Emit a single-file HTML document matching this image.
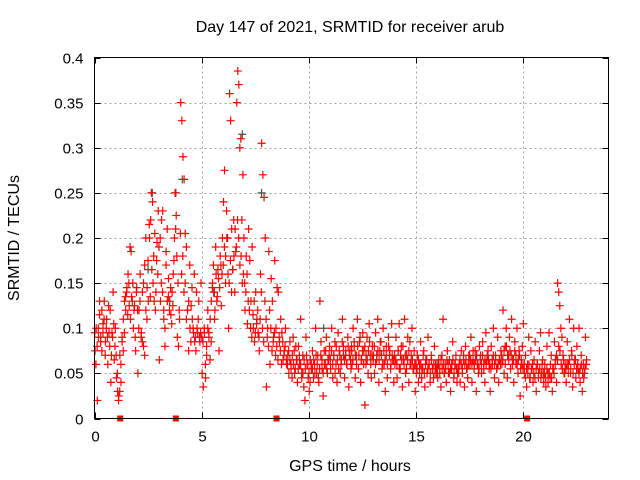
<!DOCTYPE html>
<html><head><meta charset="utf-8"><style>
html,body{margin:0;padding:0;background:#fff;}
svg{display:block;font-family:"Liberation Sans",sans-serif;}
</style></head><body>
<svg id="chart" width="640" height="480" xmlns="http://www.w3.org/2000/svg">
<rect width="640" height="480" fill="#fff"/>
<text x="350" y="32" font-size="16" text-anchor="middle">Day 147 of 2021, SRMTID for receiver arub</text>
<text x="350" y="471" font-size="16" text-anchor="middle">GPS time / hours</text>
<text transform="translate(19,238) rotate(-90)" font-size="16" text-anchor="middle">SRMTID / TECUs</text>
<g id="grid"></g><g id="ticks"></g><g id="marks"></g>
<rect x="94.5" y="57.5" width="514" height="361" fill="none" stroke="#000" stroke-width="1"/>
</svg>
<script>
const xTicks = [0,5,10,15,20];
const yTicks = [0,0.05,0.1,0.15,0.2,0.25,0.3,0.35,0.4];
const yTickLabels = ["0","0.05","0.1","0.15","0.2","0.25","0.3","0.35","0.4"];
const hourValues = [
[.075,.1,.02,.09,.13,.085,.12,.095,.11,.07,.1,.09,.125,.08,.04,.095,.14,.065,.1],
[.045,.03,.025,.07,.04,.085,.075,.095,.135,.14,.115,.15,.19,.185,.13,.1,.125,.075,.145],
[.05,.12,.16,.095,.14,.08,.07,.2,.11,.175,.215,.135,.25,.24,.18,.205,.14,.195,.23],
[.065,.13,.22,.23,.11,.08,.17,.21,.135,.12,.145,.105,.125,.175,.25,.225,.09,.08,.11],
[.35,.33,.29,.265,.205,.19,.12,.075,.17,.085,.145,.1,.16,.09,.14,.095,.13,.085,.15],
[.05,.035,.095,.045,.07,.12,.09,.065,.085,.145,.17,.11,.19,.13,.165,.075,.18,.125,.2],
[.24,.275,.15,.23,.2,.1,.36,.33,.21,.165,.22,.14,.185,.35,.385,.37,.3,.31,.22,.27,.2],
[.12,.18,.105,.21,.175,.13,.19,.1,.085,.14,.11,.095,.075,.16,.305,.27,.245,.2],
[.035,.1,.185,.06,.155,.13,.09,.175,.1,.145,.14,.085,.11,.095,.065,.075,.1,.06],
[.07,.05,.085,.06,.045,.09,.075,.055,.065,.04,.08,.06,.11,.05,.07,.035,.02,.09,.06,.045],
[.03,.065,.055,.075,.045,.06,.1,.05,.07,.04,.13,.085,.055,.025,.075,.06,.09,.05,.065,.08],
[.055,.1,.045,.07,.085,.06,.04,.095,.075,.05,.065,.11,.08,.045,.07,.06,.09,.035,.075,.055],
[.06,.1,.08,.045,.07,.11,.055,.085,.04,.065,.095,.075,.015,.06,.09,.05,.105,.07,.045,.08],
[.07,.05,.095,.065,.11,.04,.075,.085,.055,.1,.06,.03,.08,.045,.09,.07,.055,.105,.065,.04],
[.06,.09,.045,.075,.105,.055,.08,.035,.065,.11,.05,.07,.09,.04,.085,.06,.1,.055,.075,.03],
[.05,.07,.04,.06,.085,.045,.055,.075,.035,.065,.05,.09,.06,.04,.07,.055,.045,.08,.06,.05],
[.045,.065,.055,.035,.07,.11,.05,.06,.04,.075,.05,.065,.03,.055,.085,.045,.06,.07,.04,.055],
[.06,.04,.075,.05,.065,.035,.08,.055,.045,.07,.06,.09,.04,.065,.055,.075,.03,.06,.05,.08],
[.07,.05,.085,.06,.04,.095,.065,.075,.055,.03,.08,.06,.1,.045,.07,.055,.09,.04,.065,.075],
[.06,.12,.05,.08,.1,.045,.07,.09,.055,.11,.065,.04,.085,.06,.1,.05,.075,.025,.065,.08],
[.105,.05,.07,.035,.06,.09,.045,.075,.055,.04,.065,.085,.03,.06,.045,.075,.095,.05,.065,.04],
[.06,.035,.08,.05,.095,.045,.07,.03,.055,.085,.065,.04,.15,.14,.125,.1,.09,.07,.05,.06],
[.04,.085,.06,.11,.05,.075,.035,.1,.065,.045,.08,.055,.1,.04,.07,.03,.06,.05,.09,.065]
];
const hourValuesB = [
[.095,.06,.08,.1,.115,.09,.075,.105,.13,.085,.11,.06,.095,.12,.07,.09,.105,.08],
[.07,.05,.02,.03,.06,.09,.11,.13,.12,.145,.16,.125,.11,.135,.15,.12,.09,.14],
[.12,.1,.13,.09,.085,.15,.17,.12,.145,.13,.2,.22,.165,.15,.13,.12,.175,.16],
[.19,.2,.15,.14,.12,.1,.185,.13,.155,.13,.115,.14,.16,.2,.21,.18,.15,.12],
[.205,.16,.18,.14,.15,.11,.12,.13,.1,.125,.11,.095,.085,.075,.1,.11,.09,.095],
[.09,.085,.1,.06,.08,.1,.095,.11,.13,.15,.14,.12,.16,.135,.155,.145,.17,.16],
[.17,.19,.18,.2,.16,.15,.175,.14,.165,.18,.21,.19,.22,.2,.17,.18,.15,.16],
[.15,.14,.16,.13,.12,.1,.09,.115,.13,.095,.105,.12,.09,.11,.14,.1,.085,.13],
[.11,.09,.08,.12,.1,.075,.085,.095,.07,.08,.065,.09,.075,.06,.085,.07,.08,.065],
[.06,.075,.065,.055,.07,.06,.05,.08,.065,.055,.07,.06,.045,.05,.065,.055,.07,.06],
[.05,.04,.06,.055,.065,.05,.07,.06,.045,.055,.07,.065,.05,.06,.075,.055,.065,.07],
[.065,.075,.06,.07,.05,.08,.065,.055,.07,.06,.085,.07,.065,.075,.06,.08,.07,.065],
[.075,.065,.085,.07,.06,.08,.07,.09,.065,.075,.06,.08,.07,.065,.075,.085,.06,.07],
[.065,.08,.06,.07,.075,.065,.085,.07,.06,.075,.065,.07,.06,.08,.075,.06,.07,.065],
[.07,.065,.06,.075,.055,.07,.065,.08,.06,.07,.055,.065,.075,.06,.07,.065,.055,.06],
[.06,.055,.065,.05,.06,.055,.07,.05,.06,.065,.055,.06,.05,.065,.055,.06,.05,.055],
[.055,.06,.05,.065,.055,.06,.05,.055,.065,.06,.05,.055,.06,.065,.05,.06,.055,.05],
[.05,.065,.06,.055,.07,.06,.065,.055,.06,.07,.065,.06,.075,.06,.065,.07,.06,.055],
[.065,.06,.07,.055,.065,.06,.07,.065,.06,.055,.065,.07,.06,.065,.055,.06,.065,.06],
[.07,.065,.075,.06,.08,.07,.065,.075,.07,.06,.065,.075,.07,.06,.065,.07,.055,.06],
[.055,.06,.045,.055,.05,.06,.045,.055,.06,.05,.045,.055,.06,.05,.055,.045,.06,.05],
[.05,.045,.055,.04,.05,.06,.045,.055,.05,.06,.07,.065,.08,.075,.06,.055,.065,.05],
[.055,.06,.05,.065,.055,.07,.05,.06,.065,.055,.06,.05,.055,.06,.05,.045,.055,.06]
];
const grayTimes = [2.7,4.1,3.8,6.9,7.8,2.5,10.7,12.0,16.0,5.6];
const grayValues = [.25,.265,.25,.315,.25,.165,.1,.08,.06,.14];
const gapMarks = [1.2,3.8,8.5,20.2];

const X0=94.5, X1=608.5, Y0=418.5, Y1=57.5;
function sx(t){return X0+(t/24)*(X1-X0);}
function sy(v){return Y0-(v/0.4)*(Y0-Y1);}
const NS="http://www.w3.org/2000/svg";
function mk(tag,attrs,parent){const e=document.createElementNS(NS,tag);for(const k in attrs)e.setAttribute(k,attrs[k]);parent.appendChild(e);return e;}
const grid=document.getElementById('grid'), ticks=document.getElementById('ticks'), marks=document.getElementById('marks');

yTicks.forEach((v,i)=>{
  const y=Math.round(sy(v))+0.5;
  if(i>0&&i<yTicks.length-1){const g=mk('line',{x1:X0,x2:X1,y1:y,y2:y,stroke:'#a0a0a0','stroke-dasharray':'2,3'},grid);
  
  }
  mk('line',{x1:X0,x2:X0+6,y1:y,y2:y,stroke:'#000'},ticks);
  mk('line',{x1:X1-6,x2:X1,y1:y,y2:y,stroke:'#000'},ticks);
  const t=mk('text',{x:X0-11,y:y+5,'font-size':15,'text-anchor':'end'},ticks);
  t.textContent=yTickLabels[i];
  
  
});
xTicks.forEach(h=>{
  const x=Math.round(sx(h))+0.5;
  if(h>0){const g=mk('line',{x1:x,x2:x,y1:Y0,y2:Y1,stroke:'#a0a0a0','stroke-dasharray':'2,3'},grid);
  
  }
  mk('line',{x1:x,x2:x,y1:Y0,y2:Y0-6,stroke:'#000'},ticks);
  mk('line',{x1:x,x2:x,y1:Y1,y2:Y1+6,stroke:'#000'},ticks);
  const t=mk('text',{x:x,y:Y0+23,'font-size':15,'text-anchor':'middle'},ticks);
  t.textContent=String(h);
  
  
});
function plus(t,v,color){
  const x=sx(t), y=sy(v);
  const p=mk('path',{d:`M${x-4},${y}H${x+4}M${x},${y-4}V${y+4}`,stroke:color,'stroke-width':1.2,fill:'none'},marks);
  
  
}
grayTimes.forEach((t,i)=>plus(t,grayValues[i],'#505050'));
hourValues.forEach((arr,h)=>{
  arr.forEach((v,i)=>plus(h+(i+0.5)/arr.length,v,'#ff0000'));
});
hourValuesB.forEach((arr,h)=>{
  arr.forEach((v,i)=>plus(h+(i+0.2)/arr.length,v,'#ff0000'));
});
gapMarks.forEach(t=>{
  const r=mk('rect',{x:sx(t)-3,y:Y0-3,width:6,height:6,fill:'#ff0000'},marks);
  
  
});
</script>
</body></html>
